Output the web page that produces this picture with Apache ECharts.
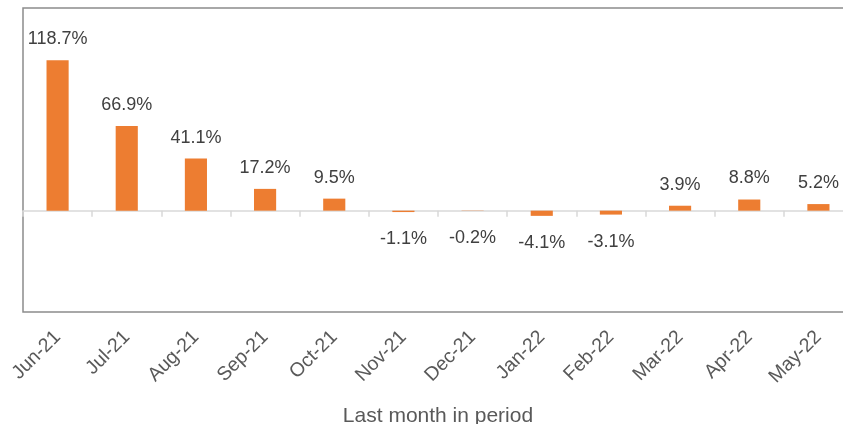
<!DOCTYPE html>
<html>
<head>
<meta charset="utf-8">
<script src="https://cdn.jsdelivr.net/npm/echarts@6/dist/echarts.min.js"></script>
<style>html,body{margin:0;padding:0;background:#fff;}#c{width:843px;height:424px;}</style>
</head>
<body>
<div id="c"></div>
<script>
const categories = ['Jun-21','Jul-21','Aug-21','Sep-21','Oct-21','Nov-21','Dec-21','Jan-22','Feb-22','Mar-22','Apr-22','May-22'];
const values = [118.7, 66.9, 41.1, 17.2, 9.5, -1.1, -0.2, -4.1, -3.1, 3.9, 8.8, 5.2];
const axisTitle = 'Last month in period';

const FONT = '"Liberation Sans", Arial, sans-serif';
const chart = echarts.init(document.getElementById('c'), null, {renderer: 'canvas'});
const data = values.map(v => ({
  value: v,
  label: v >= 0 ? {position: 'top', distance: 12} : {position: 'bottom', distance: 18}
}));
chart.setOption({
  animation: false,
  grid: {left: 23, top: 8, width: 830, height: 304, show: true, borderColor: '#8c8c8c', borderWidth: 1.5,
    backgroundColor: 'transparent', outerBoundsMode: 'none', containLabel: false},
  xAxis: [{
    type: 'category', data: categories, position: 'bottom',
    axisLine: {show: false, onZero: false}, axisTick: {show: false},
    axisLabel: {rotate: 45, margin: 22, fontSize: 19.5, color: '#595959', fontFamily: FONT, interval: 0},
    name: axisTitle, nameLocation: 'middle', nameGap: 94,
    nameTextStyle: {fontSize: 21, color: '#595959', fontFamily: FONT}
  }, {
    type: 'category', data: categories, position: 'top',
    axisLine: {show: true, onZero: true, lineStyle: {color: '#d9d9d9', width: 1.5}},
    axisTick: {show: true, inside: true, length: 6, lineStyle: {color: '#d9d9d9', width: 1.5}},
    axisLabel: {show: false}
  }],
  yAxis: {type: 'value', min: -80, max: 160, show: true,
    axisLine: {show: false}, axisTick: {show: false}, axisLabel: {show: false}, splitLine: {show: false}},
  series: [{
    type: 'bar', xAxisIndex: 0, data: data, barWidth: '32%',
    itemStyle: {color: '#ED7D31'},
    label: {show: true, fontSize: 18, color: '#404040', fontFamily: FONT,
      formatter: p => p.value.toFixed(1) + '%'}
  }]
});
</script>
</body>
</html>
